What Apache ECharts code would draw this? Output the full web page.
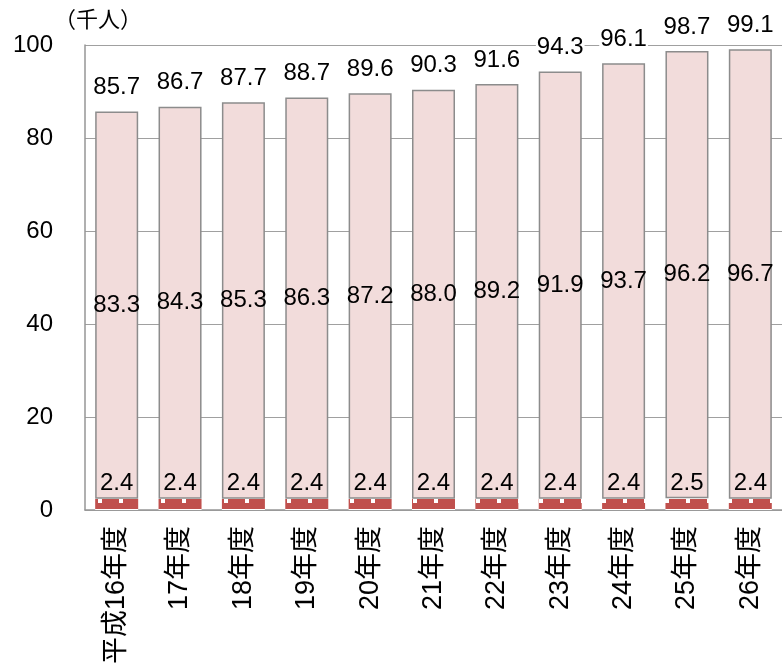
<!DOCTYPE html>
<html>
<head>
<meta charset="utf-8">
<script src="https://cdn.jsdelivr.net/npm/echarts@6/dist/echarts.min.js"></script>
<style>
html,body{margin:0;padding:0;background:#fff;}
#chart{width:782px;height:667px;}
</style>
</head>
<body>
<div id="chart"></div>
<script>
const categories = ['平成16年度','17年度','18年度','19年度','20年度','21年度','22年度','23年度','24年度','25年度','26年度'];
const bottomValues = [2.4,2.4,2.4,2.4,2.4,2.4,2.4,2.4,2.4,2.5,2.4];
const mainValues = [83.3,84.3,85.3,86.3,87.2,88.0,89.2,91.9,93.7,96.2,96.7];
const totalValues = [85.7,86.7,87.7,88.7,89.6,90.3,91.6,94.3,96.1,98.7,99.1];
const yTicks = [0,20,40,60,80,100];

// red pattern tile with white dashes
const tile = document.createElement('canvas');
tile.width = 21; tile.height = 11;
(function(){
  const c = tile.getContext('2d');
  c.fillStyle = '#c0504d'; c.fillRect(0,0,21,11);
  c.fillStyle = '#ffffff';
  c.fillRect(0,3,21,1);
  c.fillRect(14,4,4,4);
})();

const FONT = '"Liberation Sans", Arial, "Noto Sans CJK JP", sans-serif';
const chart = echarts.init(document.getElementById('chart'));
chart.setOption({
  animation: false,
  textStyle: {fontFamily: FONT},
  grid: {left: 85, right: -4, top: 45, bottom: 155, containLabel: false},
  xAxis: {
    type: 'category',
    data: categories,
    axisLine: {show: true, lineStyle: {color: '#969696', width: 1.5}},
    axisTick: {show: false},
    axisLabel: {rotate: 90, fontSize: 27, color: '#000', margin: 16, fontFamily: FONT}
  },
  yAxis: {
    type: 'value',
    min: yTicks[0], max: yTicks[yTicks.length-1], interval: 20,
    name: '（千人）',
    nameLocation: 'end',
    nameGap: 13,
    nameTextStyle: {fontSize: 22, color: '#000', align: 'center', padding: [0,0,0,26], fontFamily: FONT},
    axisLine: {show: true, lineStyle: {color: '#969696', width: 1.5}},
    axisTick: {show: false},
    axisLabel: {fontSize: 24, color: '#000', margin: 32, fontFamily: FONT},
    splitLine: {show: true, lineStyle: {color: '#a0a0a0', width: 1.2}}
  },
  series: [
    {
      type: 'bar', stack: 'a', barWidth: 43,
      data: bottomValues,
      itemStyle: {color: {image: tile, repeat: 'repeat'}},
      label: {show: true, position: 'top', distance: 3, fontSize: 24, color: '#000', formatter: p => bottomValues[p.dataIndex].toFixed(1)}
    },
    {
      type: 'bar', stack: 'a', barWidth: 43,
      data: mainValues,
      itemStyle: {color: '#f2dcdb', borderColor: '#8c8c8c', borderWidth: 1.5},
      label: {show: true, position: 'inside', fontSize: 24, color: '#000', formatter: p => mainValues[p.dataIndex].toFixed(1)}
    },
    {
      type: 'bar', stack: 'a', barWidth: 43,
      data: categories.map(() => 0),
      itemStyle: {color: 'rgba(0,0,0,0)', borderWidth: 0},
      label: {show: true, position: 'top', distance: 12, fontSize: 24, color: '#000', backgroundColor: '#fff', padding: [0,1],
        formatter: p => totalValues[p.dataIndex].toFixed(1)}
    }
  ]
});
</script>
</body>
</html>
